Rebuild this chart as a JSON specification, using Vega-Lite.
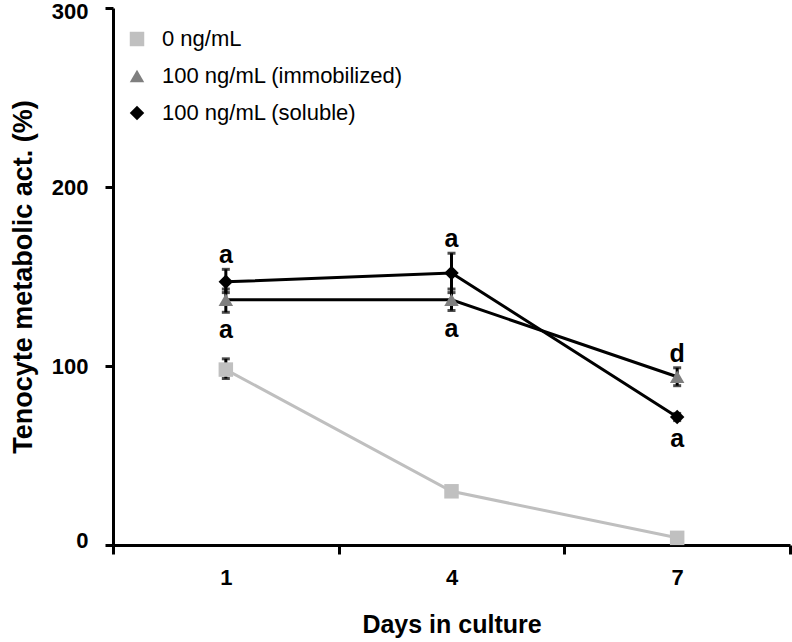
{
  "$schema": "https://vega.github.io/schema/vega-lite/v6.json",
  "width": 677,
  "height": 537,
  "autosize": {"type": "none"},
  "padding": {"left": 113, "top": 8, "right": 2, "bottom": 97},
  "background": "white",
  "config": {
    "view": {"stroke": null},
    "font": "Liberation Sans"
  },
  "data": {
    "values": [
      {"day": 1, "series": "0 ng/mL", "mean": 98, "lo": 93, "hi": 104, "above": "", "below": ""},
      {"day": 4, "series": "0 ng/mL", "mean": 30, "lo": 28.5, "hi": 31.5, "above": "", "below": ""},
      {"day": 7, "series": "0 ng/mL", "mean": 4, "lo": 3, "hi": 5, "above": "", "below": ""},
      {"day": 1, "series": "100 ng/mL (immobilized)", "mean": 137, "lo": 130, "hi": 143, "above": "", "below": "a"},
      {"day": 4, "series": "100 ng/mL (immobilized)", "mean": 137, "lo": 131, "hi": 143, "above": "", "below": "a"},
      {"day": 7, "series": "100 ng/mL (immobilized)", "mean": 94, "lo": 89, "hi": 99, "above": "d", "below": ""},
      {"day": 1, "series": "100 ng/mL (soluble)", "mean": 147, "lo": 141, "hi": 154, "above": "a", "below": ""},
      {"day": 4, "series": "100 ng/mL (soluble)", "mean": 152, "lo": 141, "hi": 163, "above": "a", "below": ""},
      {"day": 7, "series": "100 ng/mL (soluble)", "mean": 71.5, "lo": 69.5, "hi": 73.5, "above": "", "below": "a"}
    ]
  },
  "encoding": {
    "x": {
      "field": "day",
      "type": "quantitative",
      "scale": {"domain": [-0.5, 8.5], "nice": false, "zero": false},
      "axis": {
        "title": "Days in culture",
        "values": [-0.5, 1, 2.5, 4, 5.5, 7, 8.5],
        "labelExpr": "(datum.value == 1 || datum.value == 4 || datum.value == 7) ? datum.label : ''",
        "tickOpacity": {"condition": {"test": "datum.value == 1 || datum.value == 4 || datum.value == 7", "value": 0}, "value": 1},
        "grid": false,
        "domainColor": "black",
        "domainWidth": 3,
        "tickColor": "black",
        "tickWidth": 3,
        "tickSize": 9,
        "labelFont": "Liberation Sans",
        "labelFontWeight": "bold",
        "labelFontSize": 22,
        "labelColor": "black",
        "labelPadding": 13,
        "titleFont": "Liberation Sans",
        "titleFontWeight": "bold",
        "titleFontSize": 25,
        "titleColor": "black",
        "titlePadding": 24
      }
    }
  },
  "layer": [
    {
      "mark": {"type": "line", "strokeWidth": 3},
      "encoding": {
        "y": {"field": "mean", "type": "quantitative"},
        "detail": {"field": "series"},
        "color": {"condition": {"test": "datum.series == '0 ng/mL'", "value": "#bfbfbf"}, "value": "black"}
      }
    },
    {
      "mark": {"type": "rule", "strokeWidth": 3, "color": "black"},
      "encoding": {
        "y": {"field": "lo", "type": "quantitative"},
        "y2": {"field": "hi"}
      }
    },
    {
      "mark": {"type": "tick", "orient": "horizontal", "size": 8, "thickness": 3, "color": "black"},
      "encoding": {"y": {"field": "lo", "type": "quantitative"}}
    },
    {
      "mark": {"type": "tick", "orient": "horizontal", "size": 8, "thickness": 3, "color": "black"},
      "encoding": {"y": {"field": "hi", "type": "quantitative"}}
    },
    {
      "mark": {"type": "point", "filled": true, "opacity": 1, "size": 210},
      "encoding": {
        "y": {
          "field": "mean",
          "type": "quantitative",
          "scale": {"domain": [0, 300], "nice": false},
          "axis": {
            "title": "Tenocyte metabolic act. (%)",
            "values": [0, 100, 200, 300],
            "grid": false,
            "domainColor": "black",
            "domainWidth": 3,
            "tickColor": "black",
            "tickWidth": 3,
            "tickSize": 8,
            "labelFont": "Liberation Sans",
            "labelFontWeight": "bold",
            "labelFontSize": 22,
            "labelColor": "black",
            "labelPadding": 17,
            "labelFlush": true,
            "labelFlushOffset": 7,
            "titleFont": "Liberation Sans",
            "titleFontWeight": "bold",
            "titleFontSize": 27,
            "titleColor": "black",
            "titlePadding": 14
          }
        },
        "color": {
          "field": "series",
          "type": "nominal",
          "scale": {"domain": ["0 ng/mL", "100 ng/mL (immobilized)", "100 ng/mL (soluble)"], "range": ["#c0c0c0", "#7f7f7f", "#000000"]},
          "legend": {
            "title": null,
            "orient": "none",
            "legendX": 13,
            "legendY": 20,
            "labelFont": "Liberation Sans",
            "labelFontSize": 22,
            "labelColor": "black",
            "labelLimit": 500,
            "symbolSize": 210,
            "rowPadding": 15,
            "labelOffset": 14
          }
        },
        "shape": {
          "field": "series",
          "type": "nominal",
          "scale": {"domain": ["0 ng/mL", "100 ng/mL (immobilized)", "100 ng/mL (soluble)"], "range": ["square", "triangle-up", "diamond"]},
          "legend": {
            "title": null,
            "orient": "none",
            "legendX": 13,
            "legendY": 20,
            "labelFont": "Liberation Sans",
            "labelFontSize": 22,
            "labelColor": "black",
            "labelLimit": 500,
            "symbolSize": 210,
            "rowPadding": 15,
            "labelOffset": 14
          }
        }
      }
    },
    {
      "mark": {"type": "text", "dy": -14, "fontSize": 25, "fontWeight": "bold", "font": "Liberation Sans", "color": "black"},
      "encoding": {
        "y": {"field": "hi", "type": "quantitative"},
        "text": {"field": "above"}
      }
    },
    {
      "mark": {"type": "text", "dy": 18, "fontSize": 25, "fontWeight": "bold", "font": "Liberation Sans", "color": "black"},
      "encoding": {
        "y": {"field": "lo", "type": "quantitative"},
        "text": {"field": "below"}
      }
    }
  ]
}
